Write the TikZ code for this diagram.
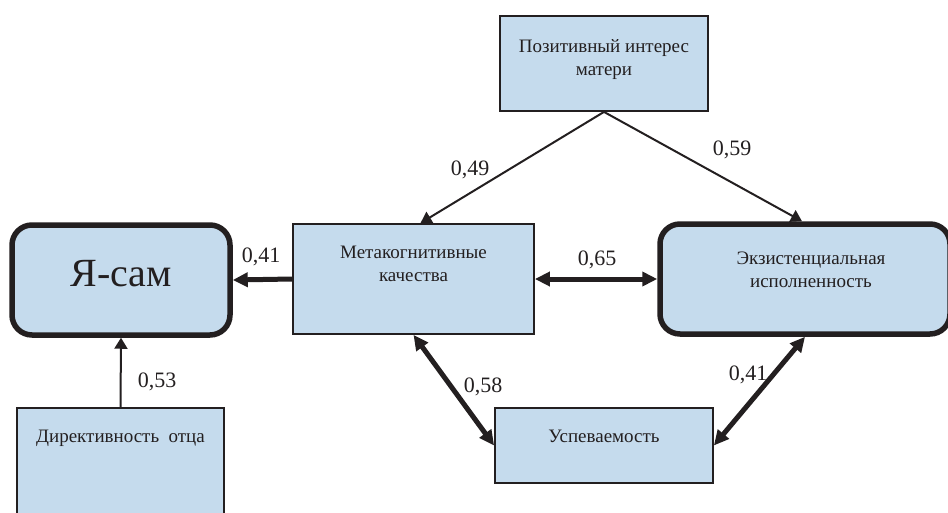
\documentclass[tikz,border=0pt]{standalone}
\usepackage{fontspec}
\setmainfont{Liberation Serif}
\usepackage{xcolor}
\usetikzlibrary{positioning, arrows.meta}

\definecolor{boxblue}{RGB}{197,219,237}
\definecolor{inkdark}{RGB}{35,31,32}

\begin{document}
\begin{tikzpicture}[
		x=1pt, y=-1pt,
		% plain boxes, text sits in a label near the top
		box/.style={
			rectangle,
			draw=inkdark,
			fill=boxblue,
			line width=1.8pt,
			inner sep=0pt
		},
		% main constructs get a heavy rounded frame
		bigbox/.style={
			box,
			rounded corners=20pt,
			line width=5.5pt
		},
		boxtext/.style={
			anchor=north,
			align=center,
			inner sep=0pt,
			text=inkdark,
			font=\fontsize{19}{23}\selectfont
		},
		coef/.style={text=inkdark, font=\fontsize{22}{26}\selectfont, inner sep=0pt},
		thinarrow/.style={-{Triangle[length=11pt,width=13pt]}, line width=2pt, draw=inkdark},
		thickarrow/.style={-{Triangle[length=15pt,width=14pt]}, line width=5pt, draw=inkdark},
		bothways/.style={{Triangle[length=15pt,width=14pt]}-{Triangle[length=15pt,width=14pt]}, line width=5pt, draw=inkdark}
		]
		
		\useasboundingbox (0,0) rectangle (948,512);
		
		% --- 1. Boxes ---
		\node[box, minimum width=208pt, minimum height=95pt,
			label={[boxtext, yshift=-24pt]north:Позитивный интерес\\матери}] (mother) at (604,63.5) {};
		
		% big title sits a little above the middle
		\node[bigbox, minimum width=218pt, minimum height=110pt,
			label={[text=inkdark, font=\fontsize{40}{44}\selectfont, yshift=6pt]center:Я-сам}] (self) at (121,280) {};
		
		\node[box, minimum width=241pt, minimum height=110pt,
			label={[boxtext, yshift=-23pt]north:Метакогнитивные\\качества}] (meta) at (413.5,279) {};
		
		\node[bigbox, minimum width=290pt, minimum height=110pt,
			label={[boxtext, yshift=-30pt, xshift=6pt]north:Экзистенциальная\\исполненность}] (exist) at (805,279) {};
		
		\node[box, minimum width=207pt, minimum height=137pt,
			label={[boxtext, yshift=-23pt]north:Директивность\ \ отца}] (father) at (120.5,476.5) {};
		
		\node[box, minimum width=218pt, minimum height=75pt,
			label={[boxtext, yshift=-23pt]north:Успеваемость}] (grades) at (604,445.5) {};
		
		% --- 2. Connectors ---
		\draw[thinarrow] (mother.south) -- ([xshift=7pt]meta.north);
		\draw[thinarrow] (mother.south) -- ([xshift=-3pt]exist.north);
		\draw[thickarrow] (meta.west) -- (self.east);
		\draw[bothways] (meta.east) -- (exist.west);
		\draw[bothways] (meta.south) -- (grades.west);
		\draw[bothways] (exist.south) -- (grades.east);
		\draw[thinarrow] (father.north) -- (self.south);
		
		% --- 3. Coefficients ---
		\node[coef] (c49) at (470,170) {0,49};
		\node[coef] (c59) at (732,150) {0,59};
		\node[coef] (c41a) at (261,257) {0,41};
		\node[coef] (c65) at (597,260) {0,65};
		\node[coef] (c58) at (483,387) {0,58};
		\node[coef] (c41b) at (748,375) {0,41};
		\node[coef] (c53) at (157,382) {0,53};
		
\end{tikzpicture}
\end{document}
